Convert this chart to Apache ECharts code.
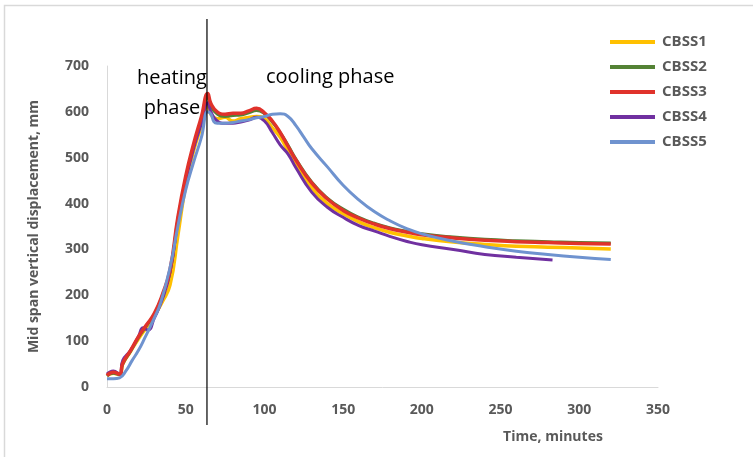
<!DOCTYPE html>
<html>
<head>
<meta charset="utf-8">
<script src="https://cdn.jsdelivr.net/npm/echarts@6/dist/echarts.min.js"></script>
<style>
  html, body { margin: 0; padding: 0; background: #fff; }
  #main { width: 753px; height: 457px; }
</style>
</head>
<body>
<div id="main"></div>
<script>
// tick labels / axis
var xTicks = [0, 50, 100, 150, 200, 250, 300, 350];
var yTicks = [0, 100, 200, 300, 400, 500, 600, 700];
var phaseSplit = 63.5; // end of heating, minutes

// time (minutes) shared by CBSS1..3
var timeA = [0, 4, 8, 10, 15, 20, 25, 30, 35, 40, 45, 50, 55, 60, 64, 66, 70, 75, 80, 85, 90, 95, 100, 105, 110, 115, 120, 130, 140, 150, 160, 170, 180, 190, 200, 220, 240, 260, 280, 300, 320];
var cbss1 = [25, 30, 27, 50, 78, 105, 130, 155, 185, 222, 330, 440, 515, 570, 615, 595, 585, 588, 580, 585, 588, 590, 585, 565, 545, 515, 485, 435, 400, 378, 360, 347, 337, 330, 324, 316, 311, 307, 305, 303, 301];
var cbss2 = [24, 30, 27, 50, 78, 108, 133, 158, 198, 250, 365, 455, 525, 585, 632, 612, 595, 590, 592, 593, 598, 603, 596, 578, 555, 527, 497, 447, 412, 388, 370, 357, 347, 340, 334, 327, 322, 319, 317, 315, 314];
var cbss3 = [25, 32, 28, 52, 80, 110, 135, 160, 200, 255, 370, 460, 530, 590, 640, 618, 600, 595, 597, 597, 602, 608, 598, 580, 555, 525, 495, 445, 410, 385, 368, 355, 345, 338, 332, 325, 320, 317, 315, 313, 312];

// CBSS4
var time4 = [0, 4, 8, 10, 15, 20, 23, 26, 30, 35, 40, 45, 50, 55, 60, 64, 66, 70, 75, 80, 85, 90, 95, 100, 105, 110, 115, 120, 130, 140, 150, 160, 170, 180, 190, 200, 220, 240, 260, 283];
var cbss4 = [28, 35, 28, 58, 80, 110, 129, 124, 150, 190, 250, 360, 450, 520, 575, 620, 600, 580, 575, 575, 578, 582, 588, 580, 555, 528, 508, 478, 425, 392, 370, 352, 340, 328, 318, 310, 300, 289, 283, 277];

// CBSS5
var time5 = [0, 4, 8, 12, 16, 20, 24, 30, 34, 40, 45, 50, 55, 60, 64, 66, 68, 70, 75, 80, 85, 90, 95, 100, 105, 110, 115, 120, 125, 130, 140, 150, 160, 170, 180, 190, 200, 220, 240, 260, 280, 300, 320];
var cbss5 = [18, 18, 20, 35, 58, 80, 107, 150, 183, 260, 350, 430, 490, 545, 600, 595, 578, 575, 575, 577, 580, 583, 587, 590, 595, 596, 590, 570, 545, 520, 480, 440, 408, 382, 362, 346, 334, 318, 306, 296, 289, 283, 278];

var names = ['CBSS1', 'CBSS2', 'CBSS3', 'CBSS4', 'CBSS5'];
var colors = ['#ffc000', '#548235', '#e0322b', '#7030a0', '#6f93cf'];
var widths = [3.5, 3, 3.5, 3, 3];

function pairs(t, v) {
  return t.map(function (x, i) { return [x, v[i]]; });
}

var seriesData = [
  pairs(timeA, cbss1),
  pairs(timeA, cbss2),
  pairs(timeA, cbss3),
  pairs(time4, cbss4),
  pairs(time5, cbss5)
];

var gray = '#595959';
var main = echarts.init(document.getElementById('main'));

var option = {
  animation: false,
  color: colors,
  grid: { left: 107, right: 95, top: 66, bottom: 70 },
  legend: {
    orient: 'vertical',
    left: 605,
    top: 27,
    itemWidth: 45,
    itemHeight: 4,
    itemGap: 5,
    icon: 'rect',
    textStyle: { color: gray, fontWeight: 'bold', fontSize: 15, fontFamily: 'Open Sans', lineHeight: 20, padding: [0, 0, 0, 2] },
    data: names
  },
  xAxis: {
    type: 'value',
    min: xTicks[0],
    max: xTicks[xTicks.length - 1],
    interval: 50,
    axisLine: { lineStyle: { color: '#d9d9d9', width: 1 } },
    axisTick: { show: false },
    splitLine: { show: false },
    axisLabel: { color: gray, fontWeight: 'bold', fontSize: 14, fontFamily: 'Open Sans', margin: 16 }
  },
  yAxis: {
    type: 'value',
    min: yTicks[0],
    max: yTicks[yTicks.length - 1],
    interval: 100,
    name: 'Mid span vertical displacement, mm',
    nameLocation: 'middle',
    nameGap: 66,
    nameTextStyle: { color: gray, fontWeight: 'bold', fontSize: 14, fontFamily: 'Open Sans' },
    axisLine: { show: true, lineStyle: { color: '#d9d9d9', width: 1 } },
    axisTick: { show: false },
    splitLine: { show: false },
    axisLabel: { color: gray, fontWeight: 'bold', fontSize: 14, fontFamily: 'Open Sans', margin: 18 }
  },
  series: names.map(function (n, i) {
    return {
      name: n,
      type: 'line',
      data: seriesData[i],
      showSymbol: false,
      smooth: 0.5,
      z: i === 2 ? 6 : 2 + i,
      lineStyle: { color: colors[i], width: widths[i] },
      itemStyle: { color: colors[i] }
    };
  })
};

main.setOption(option);

// annotations: phase split line and labels
var splitX = main.convertToPixel({ xAxisIndex: 0 }, phaseSplit);
main.setOption({
  graphic: [
    {
      type: 'rect',
      shape: { x: 4.5, y: 5.5, width: 800, height: 500 },
      style: { fill: 'none', stroke: '#d9d9d9', lineWidth: 1.5 },
      silent: true
    },
    {
      type: 'line',
      shape: { x1: splitX, y1: 19, x2: splitX, y2: 425 },
      style: { stroke: '#000', lineWidth: 1.2 },
      z: 100
    },
    {
      type: 'text',
      x: splitX - 35,
      y: 93,
      style: {
        text: 'heating\nphase',
        fill: '#000',
        font: '20px "Open Sans"',
        align: 'center',
        verticalAlign: 'middle',
        lineHeight: 30
      },
      z: 100
    },
    {
      type: 'text',
      x: 266,
      y: 77,
      style: {
        text: 'cooling phase',
        fill: '#000',
        font: '20px "Open Sans"',
        align: 'left',
        verticalAlign: 'middle'
      },
      z: 100
    },
    {
      type: 'text',
      x: 553,
      y: 437,
      style: {
        text: 'Time, minutes',
        fill: gray,
        font: 'bold 14px "Open Sans"',
        align: 'center',
        verticalAlign: 'middle'
      }
    }
  ]
});
</script>
</body>
</html>
